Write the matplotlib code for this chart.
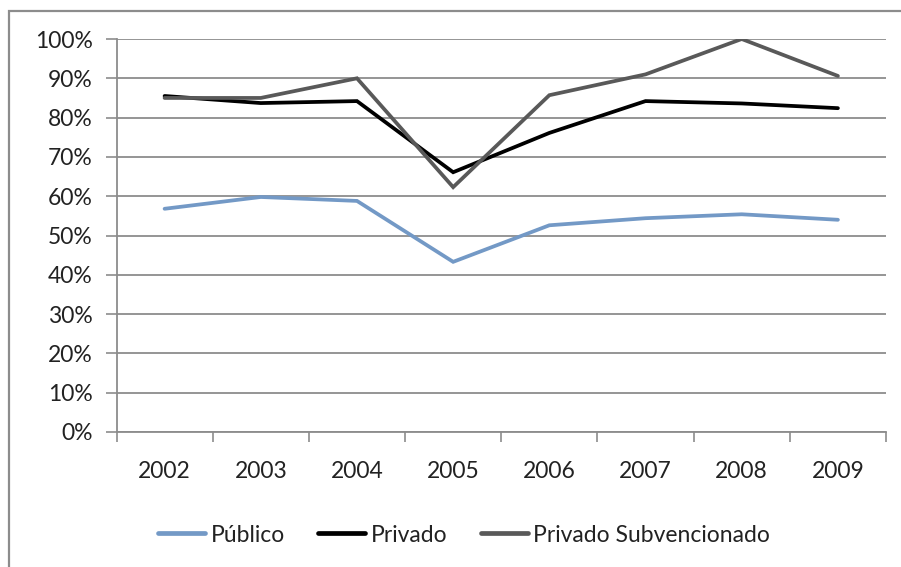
import matplotlib
matplotlib.use("Agg")
import matplotlib.pyplot as plt
from matplotlib.patches import Rectangle
from matplotlib.ticker import FixedLocator, FuncFormatter

years = ["2002", "2003", "2004", "2005", "2006", "2007", "2008", "2009"]
publico = [56.8, 59.8, 58.8, 43.3, 52.6, 54.4, 55.4, 54.0]
privado = [85.5, 83.7, 84.2, 66.1, 76.1, 84.2, 83.6, 82.4]
privado_subv = [85.0, 85.0, 90.0, 62.3, 85.7, 91.0, 100.0, 90.6]

series_names = ["Público", "Privado", "Privado Subvencionado"]
series_colors = ["#7399C6", "#000000", "#595959"]

plt.rcParams["font.family"] = ["Lato", "DejaVu Sans"]

W, H = 901, 567
fig = plt.figure(figsize=(W / 100, H / 100), dpi=100)

# chart frame
fig.patches.append(Rectangle((8.5 / W, -0.1), 1.2, 1.1 - 10.5 / H,
                             transform=fig.transFigure, fill=False,
                             edgecolor="#8C8C8C", linewidth=1.6))

left, right, top, bottom = 116.5, 886, 39, 432
ax = fig.add_axes([left / W, 1 - bottom / H, (right - left) / W, (bottom - top) / H])

x = list(range(len(years)))
for vals, name, col in zip([publico, privado, privado_subv], series_names, series_colors):
    ax.plot(x, vals, color=col, linewidth=2.7, label=name,
            solid_capstyle="round", solid_joinstyle="miter")

ax.set_xlim(-0.5, len(years) - 0.5)
ax.set_ylim(0, 100)

ax.yaxis.set_major_locator(FixedLocator(range(0, 101, 10)))
ax.yaxis.set_major_formatter(FuncFormatter(lambda v, p: f"{int(v)}%"))
ax.grid(axis="y", color="#8C8C8C", linewidth=1.3)
ax.set_axisbelow(True)

fs = 16.5
ax.set_xticks(x)
ax.set_xticklabels(years)
ax.set_xticks([i - 0.5 for i in range(len(years) + 1)], minor=True)
ax.tick_params(axis="x", which="major", length=0, pad=21, labelsize=fs, labelcolor="#222222")
ax.tick_params(axis="x", which="minor", length=7, width=1.2, color="#8C8C8C", direction="out")
ax.tick_params(axis="y", length=8, width=1.2, color="#8C8C8C", pad=9, labelsize=fs,
               labelcolor="#222222")

for side in ["top", "right"]:
    ax.spines[side].set_visible(False)
for side in ["left", "bottom"]:
    ax.spines[side].set_color("#8C8C8C")
    ax.spines[side].set_linewidth(1.3)

leg = fig.legend(loc="center", bbox_to_anchor=(464 / W, 1 - 535 / H), ncol=3,
                 frameon=False, fontsize=fs, handlelength=2.05, handletextpad=0.25,
                 columnspacing=1.45)
for t in leg.get_texts():
    t.set_color("#222222")
for l in leg.get_lines():
    l.set_linewidth(3.4)

fig.savefig("out.png", dpi=100)
